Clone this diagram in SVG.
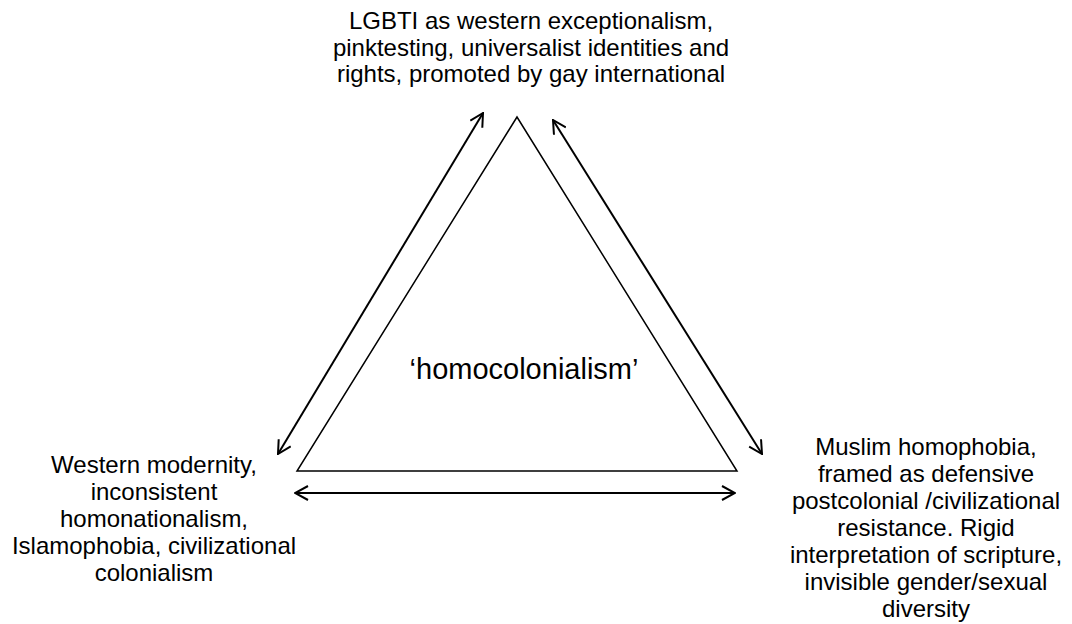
<svg xmlns="http://www.w3.org/2000/svg" width="1072" height="624" viewBox="0 0 1072 624">
<defs>
<marker id="ah" viewBox="0 0 16 16" refX="15" refY="8" markerWidth="16" markerHeight="16" markerUnits="userSpaceOnUse" orient="auto-start-reverse">
<path d="M2,1 L15,8 L2,15" fill="none" stroke="#000" stroke-width="2"/>
</marker>
<style>
text{font-family:"Liberation Sans",Arial,sans-serif;font-size:24px;fill:#000;text-anchor:middle}
.c{font-size:29px}
.edge{stroke:#000;stroke-width:2;fill:none}
</style>
</defs>
<rect width="1072" height="624" fill="#fff"/>
<g id="triangle">
<polygon points="517,117 297,471 737,471" fill="none" stroke="#000" stroke-width="1.5"/>
<text class="c" x="524" y="379">‘homocolonialism’</text>
</g>
<g id="top">
<text x="531" y="29">LGBTI as western exceptionalism,</text>
<text x="531" y="55.5">pinktesting, universalist identities and</text>
<text x="531" y="82">rights, promoted by gay international</text>
</g>
<g id="left">
<text x="154" y="473">Western modernity,</text>
<text x="154" y="500">inconsistent</text>
<text x="154" y="527">homonationalism,</text>
<text x="154" y="554">Islamophobia, civilizational</text>
<text x="154" y="581">colonialism</text>
</g>
<g id="right">
<text x="926" y="455">Muslim homophobia,</text>
<text x="926" y="482">framed as defensive</text>
<text x="926" y="509">postcolonial /civilizational</text>
<text x="926" y="536">resistance. Rigid</text>
<text x="926" y="563">interpretation of scripture,</text>
<text x="926" y="590">invisible gender/sexual</text>
<text x="926" y="617">diversity</text>
</g>
<g id="connectors">
<line class="edge" x1="278" y1="454" x2="483" y2="113" marker-start="url(#ah)" marker-end="url(#ah)"/>
<line class="edge" x1="553" y1="120" x2="762" y2="454" marker-start="url(#ah)" marker-end="url(#ah)"/>
<line class="edge" x1="295" y1="493" x2="735" y2="493" marker-start="url(#ah)" marker-end="url(#ah)"/>
</g>
</svg>
